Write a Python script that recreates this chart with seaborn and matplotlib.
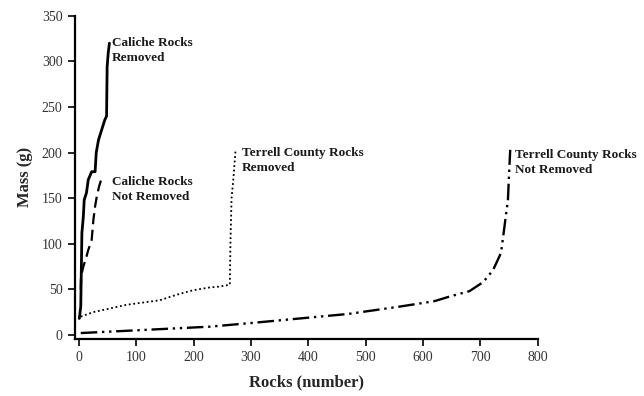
import matplotlib
matplotlib.use("Agg")
import matplotlib.pyplot as plt
import seaborn as sns
import pandas as pd

# Caliche Rocks Removed
cr_x = [0.5, 3, 5, 7.5, 9, 13, 16, 22, 28, 30, 34, 39.5, 45, 48, 49, 51, 53]
cr_y = [18, 31, 112, 130, 148, 156, 170, 179, 179, 200, 214, 225, 236, 240, 294, 310, 320]

# Caliche Rocks Not Removed
cn_x = [3, 3.5, 7.5, 13, 16, 22, 25, 28, 31, 35, 39.5, 42]
cn_y = [50, 64, 75, 86, 93, 104, 126, 141, 152, 163, 172, 172]

# Terrell County Rocks Removed
tr_x = [3, 25, 83, 141, 170, 199, 228, 245, 263, 264, 266, 269, 273]
tr_y = [20, 25, 33, 38, 44, 49, 52, 53, 55, 100, 150, 170, 203]

# Terrell County Rocks Not Removed
tn_x = [3, 100, 228, 300, 385, 470, 559, 620, 646, 681, 705, 722, 736, 742, 748, 750, 752]
tn_y = [2, 5, 9, 13, 18, 23, 31, 37, 42, 48, 58, 71, 90, 119, 148, 177, 203]

labels = ["Caliche Rocks\nRemoved", "Caliche Rocks\nNot Removed",
          "Terrell County Rocks\nRemoved", "Terrell County Rocks\nNot Removed"]
xticks = [0, 100, 200, 300, 400, 500, 600, 700, 800]
yticks = [0, 50, 100, 150, 200, 250, 300, 350]

sns.set_theme(style="ticks")
plt.rcParams['font.family'] = ['Liberation Serif', 'DejaVu Serif']

fig = plt.figure(figsize=(6.44, 3.96), dpi=100)
ax = fig.add_axes([0.1165, 0.144, 0.7185, 0.816])

series = [
    (cr_x, cr_y, dict(color="black", lw=2.0, linestyle="-")),
    (cn_x, cn_y, dict(color="black", lw=1.6, linestyle=(0, (5, 2.5)))),
    (tr_x, tr_y, dict(color="black", lw=1.3, linestyle=(0, (1, 1.5)))),
    (tn_x, tn_y, dict(color="black", lw=1.7, linestyle=(0, (7, 2, 1, 2, 1, 2)))),
]
for x, y, kw in series:
    df = pd.DataFrame({"x": x, "y": y})
    sns.lineplot(data=df, x="x", y="y", ax=ax, sort=False, estimator=None, **kw)

label_pos = [(57, 327), (57, 174), (284, 206), (760, 204)]
for (lx, ly), t in zip(label_pos, labels):
    ax.text(lx, ly, t, fontsize=9.5, fontweight="bold", va="top", ha="left",
            color="#1a1a1a", linespacing=1.3)

ax.set_xlim(-7, 800)
ax.set_ylim(-4.5, 350)
ax.set_xticks(xticks)
ax.set_yticks(yticks)
ax.tick_params(labelsize=10, length=5, width=1.2, pad=4, colors="black",
               labelcolor="#333333")
for s in ["top", "right"]:
    ax.spines[s].set_visible(False)
for s in ["left", "bottom"]:
    ax.spines[s].set_linewidth(1.6)
    ax.spines[s].set_color("black")
ax.set_xlabel("Rocks (number)", fontsize=12, fontweight="bold", labelpad=7)
ax.set_ylabel("Mass (g)", fontsize=12, fontweight="bold", labelpad=6)

fig.savefig("out.png", dpi=100)
